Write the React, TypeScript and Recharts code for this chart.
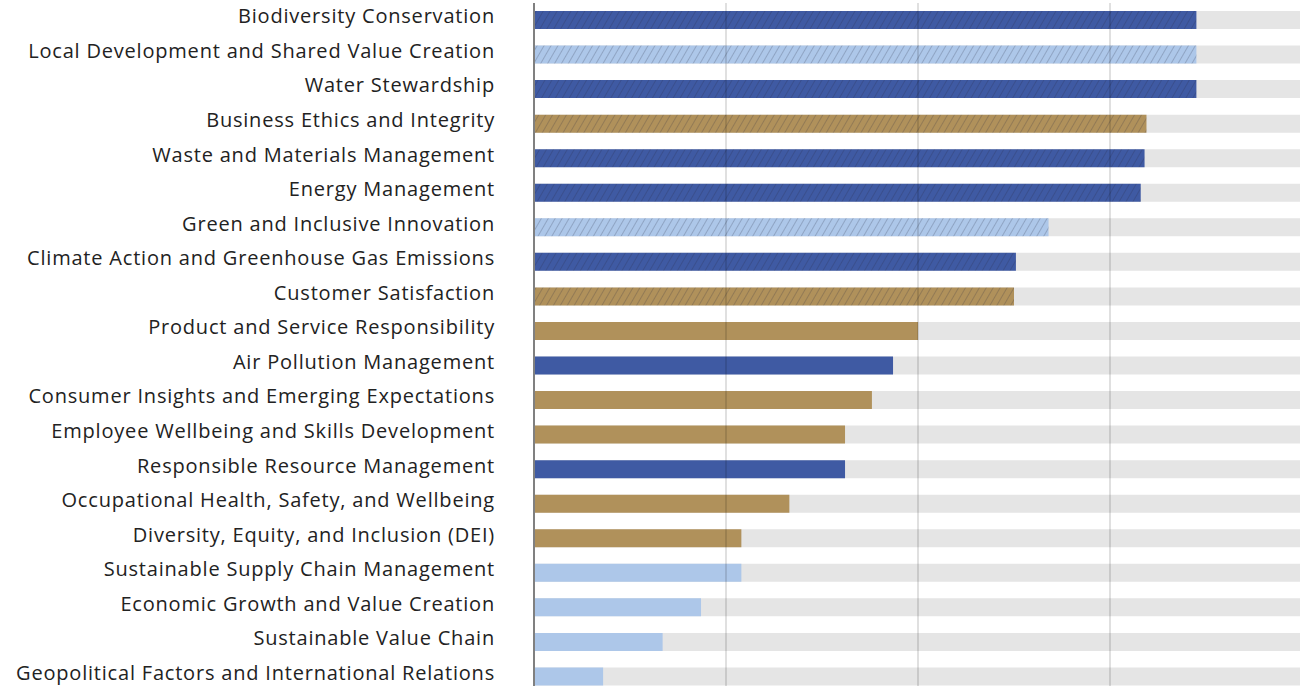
import { BarChart, Bar, XAxis, YAxis, Cell, ReferenceLine } from "recharts";

const categories = [
  "Biodiversity Conservation",
  "Local Development and Shared Value Creation",
  "Water Stewardship",
  "Business Ethics and Integrity",
  "Waste and Materials Management",
  "Energy Management",
  "Green and Inclusive Innovation",
  "Climate Action and Greenhouse Gas Emissions",
  "Customer Satisfaction",
  "Product and Service Responsibility",
  "Air Pollution Management",
  "Consumer Insights and Emerging Expectations",
  "Employee Wellbeing and Skills Development",
  "Responsible Resource Management",
  "Occupational Health, Safety, and Wellbeing",
  "Diversity, Equity, and Inclusion (DEI)",
  "Sustainable Supply Chain Management",
  "Economic Growth and Value Creation",
  "Sustainable Value Chain",
  "Geopolitical Factors and International Relations",
];

const scores = [
  3.45, 3.45, 3.45, 3.19, 3.18, 3.16, 2.68, 2.51, 2.5, 2.0, 1.87, 1.76, 1.62,
  1.62, 1.33, 1.08, 1.08, 0.87, 0.67, 0.36,
];

// E = environmental (dark blue), S = social (tan), G = economic (light blue)
const groups = [
  "E", "G", "E", "S", "E", "E", "G", "E", "S", "S",
  "E", "S", "S", "E", "S", "S", "G", "G", "G", "G",
];

const hatched = [
  true, true, true, true, true, true, true, true, true, false,
  false, false, false, false, false, false, false, false, false, false,
];

const gridTicks = [1, 2, 3];

const colors: Record<string, string> = {
  E: "#3F5AA3",
  S: "#B0915B",
  G: "#ADC7E9",
};

const data = categories.map((name, i) => ({
  name,
  score: scores[i],
  group: groups[i],
  hatched: hatched[i],
}));

function CategoryTick(props: any) {
  const { x, y, payload } = props;
  return (
    <text
      x={x}
      y={y - 4}
      dy="0.355em"
      textAnchor="end"
      fill="#222"
      fontSize={20}
      fontFamily="Open Sans"
      letterSpacing={0.8}
    >
      {payload.value}
    </text>
  );
}

export default function App() {
  return (
    <div style={{ position: "absolute", left: 0, top: 3 }}>
      <BarChart
        width={1302}
        height={691}
        data={data}
        layout="vertical"
        margin={{ top: 0, right: 0, bottom: 0, left: 0 }}
      >
        <defs>
          {Object.keys(colors).map((k) => (
            <pattern
              key={k}
              id={`hatch-${k}`}
              patternUnits="userSpaceOnUse"
              width={6}
              height={6}
              patternTransform="rotate(30)"
            >
              <rect width={6} height={6} fill={colors[k]} />
              <line x1={0} y1={0} x2={0} y2={6} stroke="rgba(40,40,60,0.28)" strokeWidth={1.6} />
            </pattern>
          ))}
        </defs>
        <XAxis type="number" domain={[0, 4]} hide />
        <YAxis
          type="category"
          dataKey="name"
          width={534}
          tickSize={0}
          tickMargin={39}
          axisLine={{ stroke: "#808080", strokeWidth: 2 }}
          tickLine={false}
          interval={0}
          tick={<CategoryTick />}
        />
        <Bar
          dataKey="score"
          barSize={18}
          isAnimationActive={false}
          background={{ fill: "#E5E5E5" }}
        >
          {data.map((d, i) => (
            <Cell
              key={i}
              fill={d.hatched ? `url(#hatch-${d.group})` : colors[d.group]}
            />
          ))}
        </Bar>
        {gridTicks.map((t) => (
          <ReferenceLine
            key={t}
            x={t}
            stroke="rgba(0,0,0,0.12)"
            strokeWidth={2}
          />
        ))}
      </BarChart>
    </div>
  );
}
